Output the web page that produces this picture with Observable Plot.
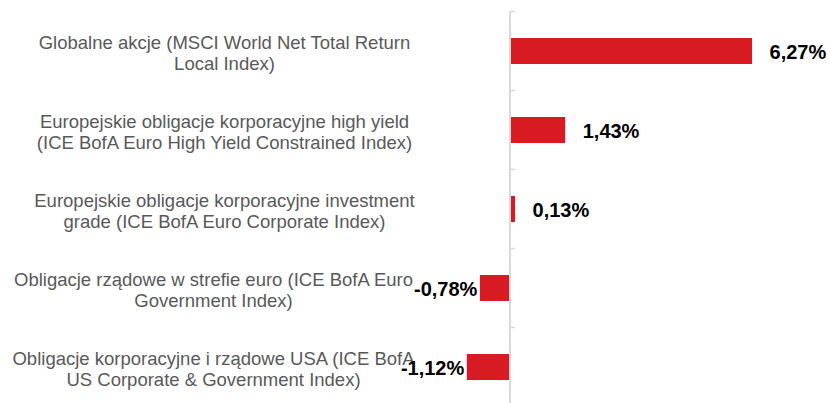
<!DOCTYPE html>
<html>
<head>
<meta charset="utf-8">
<script src="https://cdn.jsdelivr.net/npm/d3@7"></script>
<script src="https://cdn.jsdelivr.net/npm/@observablehq/plot@0.6"></script>
<style>
  html, body { margin: 0; padding: 0; background: #ffffff; }
  #chart svg { display: block; }
</style>
</head>
<body>
<div id="chart"></div>
<script>
const categories = [
  "Globalne akcje (MSCI World Net Total Return\nLocal Index)",
  "Europejskie obligacje korporacyjne high yield\n(ICE BofA Euro High Yield Constrained Index)",
  "Europejskie obligacje korporacyjne investment\ngrade (ICE BofA Euro Corporate Index)",
  "Obligacje rządowe w strefie euro (ICE BofA Euro\nGovernment Index)",
  "Obligacje korporacyjne i rządowe USA (ICE BofA\nUS Corporate & Government Index)"
];
const values = [6.27, 1.43, 0.13, -0.78, -1.12];

const data = categories.map((c, i) => ({category: c, value: values[i], i}));
const fmt = v => v.toFixed(2).replace(".", ",") + "%";
const red = "#d81b23";
const axisColor = "#d9d9d9";
const padInner = 0.67;

const axisMark = (index, scales, channels, dimensions, context) => {
  const x0 = scales.x(0);
  const y = scales.y;
  const step = y(categories[1]) - y(categories[0]);
  const bw = step * (1 - padInner);
  const gap = step - bw;
  const bounds = categories.map(c => y(c) - gap / 2);
  bounds.push(y(categories[categories.length - 1]) + bw + gap / 2);
  const g = d3.create("svg:g");
  g.append("line")
    .attr("x1", x0).attr("x2", x0)
    .attr("y1", bounds[0]).attr("y2", bounds[bounds.length - 1])
    .attr("stroke", axisColor).attr("stroke-width", 2);
  g.selectAll("line.t").data(bounds).join("line")
    .attr("class", "t")
    .attr("x1", x0).attr("x2", x0 + 5)
    .attr("y1", d => d).attr("y2", d => d)
    .attr("stroke", axisColor).attr("stroke-width", 1.5);
  return g.node();
};

const labelOpts = {
  y: "category", text: "category", frameAnchor: "left",
  textAnchor: "middle", lineAnchor: "middle", lineHeight: 1.12, dy: 1,
  fontSize: 18.5, fill: "#595959"
};

const chart = Plot.plot({
  width: 830,
  height: 403,
  marginLeft: 0,
  marginRight: 0,
  marginTop: 0,
  marginBottom: 0,
  style: {background: "#ffffff", fontFamily: "'Liberation Sans', Arial, sans-serif"},
  x: {domain: [-1.5, 8], range: [510 - 1.5 * 38.6, 510 + 8 * 38.6], axis: null},
  y: {domain: categories, range: [11, 407], paddingInner: padInner, paddingOuter: padInner / 2, axis: null},
  marks: [
    Plot.barX(data, {x: "value", y: "category", fill: red}),
    axisMark,
    Plot.text(data.filter(d => d.i < 3), {...labelOpts, dx: 224}),
    Plot.text(data.filter(d => d.i >= 3), {...labelOpts, dx: 213}),
    Plot.text(data.filter(d => d.value >= 0), {
      x: "value", y: "category", text: d => fmt(d.value), textAnchor: "start", dx: 17, dy: 1,
      fontSize: 20, fontWeight: "bold", fill: "#000000"
    }),
    Plot.text(data.filter(d => d.value < 0), {
      x: "value", y: "category", text: d => fmt(d.value), textAnchor: "end", dx: -3, dy: 1,
      fontSize: 20, fontWeight: "bold", fill: "#000000"
    })
  ]
});
document.getElementById("chart").appendChild(chart);
</script>
</body>
</html>
